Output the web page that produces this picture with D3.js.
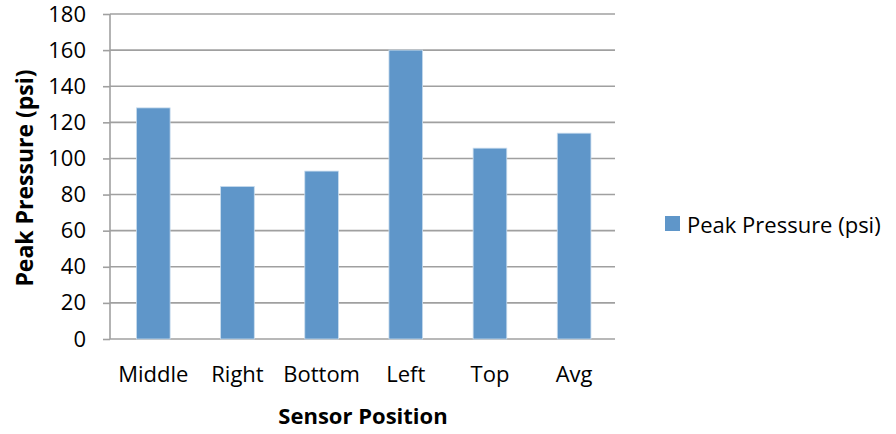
<!DOCTYPE html>
<html>
<head>
<meta charset="utf-8">
<script src="https://cdn.jsdelivr.net/npm/d3@7"></script>
<style>
  body { margin: 0; background: #fff; }
  text { font-family: "Open Sans", sans-serif; fill: #000; }
</style>
</head>
<body>
<svg id="drawing_region"></svg>
<script>
const categories = ['Middle', 'Right', 'Bottom', 'Left', 'Top', 'Avg'];
const values = [128, 84.5, 93, 160, 105.7, 114];
const yTicks = [0, 20, 40, 60, 80, 100, 120, 140, 160, 180];
const seriesName = 'Peak Pressure (psi)';

const width = 896, height = 434;
const margin = {top: 14, right: 281, bottom: 95, left: 110};
const plotW = width - margin.left - margin.right;
const plotH = height - margin.top - margin.bottom;

const svg = d3.select('#drawing_region')
    .attr('width', width)
    .attr('height', height);

const chart = svg.append('g')
    .attr('transform', `translate(${margin.left}, ${margin.top})`);

const x = d3.scaleBand()
    .domain(categories)
    .range([1.2, plotW + 1.2])
    .paddingInner(0.6)
    .paddingOuter(0.3);

const y = d3.scaleLinear()
    .domain([0, 180])
    .range([plotH, 0]);

// gridlines
chart.append('g')
    .selectAll('line')
    .data(yTicks)
    .enter()
    .append('line')
    .attr('x1', 0)
    .attr('x2', plotW)
    .attr('y1', d => y(d))
    .attr('y2', d => y(d))
    .attr('stroke', '#a0a0a0')
    .attr('stroke-width', 1.6);

// bars
chart.append('g')
    .selectAll('rect')
    .data(values)
    .enter()
    .append('rect')
    .attr('x', (d, i) => x(categories[i]))
    .attr('y', d => y(d))
    .attr('width', x.bandwidth())
    .attr('height', d => plotH - y(d))
    .attr('fill', '#5f96c9')
    .attr('stroke', '#c9dcee')
    .attr('stroke-width', 0.8);

// y axis
const yaxis = d3.axisLeft(y).tickValues(yTicks).tickSize(7).tickPadding(17);
const yg = chart.append('g').call(yaxis);
yg.select('.domain').attr('stroke', '#a0a0a0').attr('stroke-width', 1.6)
    .attr('d', `M0,0V${plotH}`);
yg.selectAll('.tick line').attr('stroke', '#a0a0a0').attr('stroke-width', 1.6);
yg.selectAll('.tick text')
    .style('font-family', '"Open Sans", sans-serif')
    .style('font-size', '22px')
    .attr('fill', '#000');

// x axis
const xaxis = d3.axisBottom(x).tickSize(0).tickPadding(27);
const xg = chart.append('g')
    .attr('transform', `translate(0, ${plotH})`)
    .call(xaxis);
xg.select('.domain').remove();
xg.selectAll('.tick text')
    .style('font-family', '"Open Sans", sans-serif')
    .style('font-size', '22px')
    .attr('fill', '#000');

// axis titles
svg.append('text')
    .attr('x', 363)
    .attr('y', 424)
    .attr('text-anchor', 'middle')
    .style('font-size', '22px')
    .style('font-weight', 'bold')
    .text('Sensor Position');

svg.append('text')
    .attr('transform', 'translate(33, 178) rotate(-90)')
    .attr('text-anchor', 'middle')
    .style('font-size', '23px')
    .style('font-weight', 'bold')
    .text(seriesName);

// legend
const legend = svg.append('g')
    .attr('transform', 'translate(665, 216)');
legend.append('rect')
    .attr('x', 0)
    .attr('y', 0)
    .attr('width', 15)
    .attr('height', 15)
    .attr('fill', '#5f96c9');
legend.append('text')
    .attr('x', 22)
    .attr('y', 17)
    .style('font-size', '22px')
    .text(seriesName);
</script>
</body>
</html>
